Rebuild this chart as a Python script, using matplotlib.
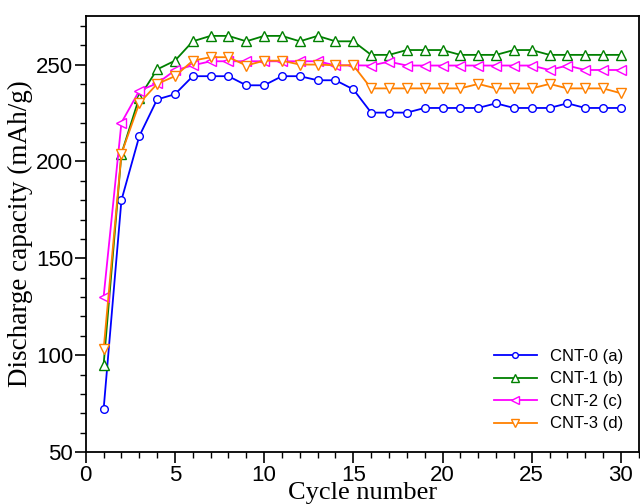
import matplotlib.pyplot as plt
from matplotlib.ticker import MultipleLocator

cycles = list(range(1, 31))

cnt0 = [72, 180, 213, 232, 234.7, 244, 244, 244, 239.3, 239.3,
        244, 244, 241.9, 241.9, 237.2, 225.2, 225.2, 225.2, 227.6, 227.6,
        227.6, 227.6, 230, 227.6, 227.6, 227.6, 230, 227.6, 227.6, 227.6]
cnt1 = [95, 204, 233, 247.5, 252, 262, 264.8, 264.8, 262, 264.8,
        264.8, 262, 264.8, 262, 262, 255, 255, 257.5, 257.5, 257.5,
        255, 255, 255, 257.5, 257.5, 255, 255, 255, 255, 255]
cnt2 = [130, 220, 236.5, 240.3, 247, 249.6, 251.7, 251.7, 251.7, 251.7,
        251.7, 251.7, 251.7, 249.6, 249.6, 249.5, 251.5, 249.5, 249.5, 249.5,
        249.5, 249.5, 249.5, 249.5, 249.5, 247.2, 249.5, 247.2, 247.2, 247.2]
cnt3 = [103, 204, 230, 240, 244, 252, 253.8, 253.8, 249.5, 252,
        252, 250, 250, 249.6, 249.6, 237.7, 237.7, 237.7, 237.7, 237.7,
        237.7, 240, 237.7, 237.7, 237.7, 240, 237.7, 237.7, 237.7, 235.2]

labels = ['CNT-0 (a)', 'CNT-1 (b)', 'CNT-2 (c)', 'CNT-3 (d)']
colors = ['#0000ff', '#008000', '#ff00ff', '#ff8000']
markers = ['o', '^', '<', 'v']
msizes = [5.5, 7, 7, 7]

fig = plt.figure(figsize=(6.4, 5.04), dpi=100)
ax = fig.add_axes([0.134, 0.103, 0.864, 0.865])

for y, lab, c, m, ms in zip([cnt0, cnt1, cnt2, cnt3], labels, colors, markers, msizes):
    ax.plot(cycles, y, color=c, marker=m, markersize=ms, markerfacecolor='white',
            markeredgecolor=c, markeredgewidth=1.0, linewidth=1.3, label=lab)

ax.set_xlim(0, 31)
ax.set_ylim(50, 275)
ax.xaxis.set_major_locator(MultipleLocator(5))
ax.xaxis.set_minor_locator(MultipleLocator(1))
ax.yaxis.set_major_locator(MultipleLocator(50))
ax.yaxis.set_minor_locator(MultipleLocator(10))
ax.tick_params(which='major', length=8, width=1.2, labelsize=16, pad=1)
ax.tick_params(which='minor', length=4, width=1.0)
for lbl in ax.get_xticklabels() + ax.get_yticklabels():
    lbl.set_fontfamily('Liberation Sans')
for s in ax.spines.values():
    s.set_linewidth(1.3)

ax.set_xlabel('Cycle number', fontfamily='Liberation Serif', fontsize=19, labelpad=-2.5)
ax.set_ylabel('Discharge capacity (mAh/g)', fontfamily='Liberation Serif', fontsize=19.5, labelpad=2)

ax.legend(loc='lower right', frameon=False, prop={'family': 'Liberation Sans', 'size': 12},
          handlelength=2.6, labelspacing=0.45, markerscale=0.75, bbox_to_anchor=(1.0, 0.013))

plt.savefig('out.png', dpi=100)
